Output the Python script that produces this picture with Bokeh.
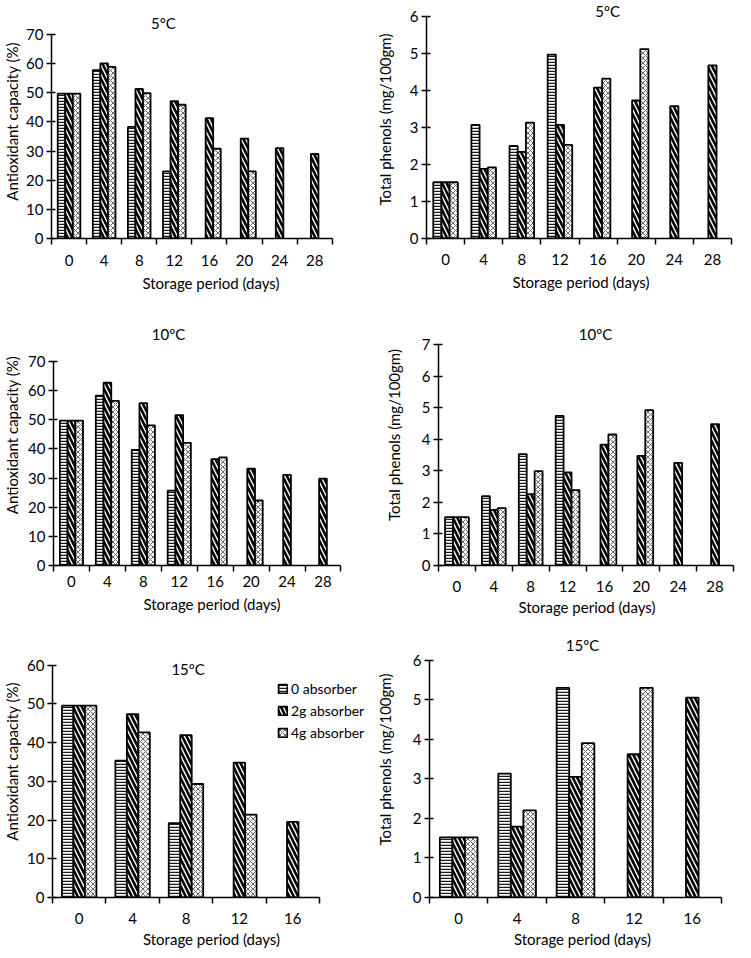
from bokeh.plotting import figure
from bokeh.layouts import column, row
from bokeh.models import Range1d, FixedTicker, SingleIntervalTicker, Label, Legend, LegendItem
from bokeh.embed import file_html
from bokeh.resources import INLINE

# ---------------- data ----------------
days_long = ["0", "4", "8", "12", "16", "20", "24", "28"]
days_short = ["0", "4", "8", "12", "16"]
series_names = ["0 absorber", "2g absorber", "4g absorber"]

ac5_0 = [49.7, 57.8, 38.3, 23.0, None, None, None, None]
ac5_2 = [49.7, 60.1, 51.3, 47.1, 41.3, 34.3, 31.0, 29.0]
ac5_4 = [49.7, 58.9, 49.9, 45.9, 30.8, 23.0, None, None]

tp5_0 = [1.52, 3.07, 2.50, 4.97, None, None, None, None]
tp5_2 = [1.52, 1.88, 2.34, 3.07, 4.08, 3.73, 3.58, 4.68]
tp5_4 = [1.52, 1.92, 3.13, 2.53, 4.32, 5.12, None, None]

ac10_0 = [49.7, 58.3, 39.7, 25.7, None, None, None, None]
ac10_2 = [49.7, 62.7, 55.7, 51.6, 36.5, 33.2, 31.1, 29.8]
ac10_4 = [49.7, 56.5, 48.1, 42.1, 37.1, 22.3, None, None]

tp10_0 = [1.53, 2.20, 3.53, 4.74, None, None, None, None]
tp10_2 = [1.53, 1.76, 2.26, 2.95, 3.83, 3.47, 3.25, 4.48]
tp10_4 = [1.53, 1.82, 2.99, 2.39, 4.15, 4.92, None, None]

ac15_0 = [49.5, 35.3, 19.2, None, None]
ac15_2 = [49.5, 47.3, 41.9, 34.8, 19.5]
ac15_4 = [49.5, 42.6, 29.3, 21.4, None]

tp15_0 = [1.52, 3.13, 5.30, None, None]
tp15_2 = [1.52, 1.79, 3.05, 3.62, 5.05]
tp15_4 = [1.52, 2.20, 3.90, 5.30, None]

FONT = "Lato"
FS = "15px"
BAR_W = 0.215

styles = [
    dict(hatch_pattern="-", hatch_color="#1a1a1a", hatch_scale=3, hatch_weight=1.5),
    dict(hatch_pattern="\\", hatch_color="#000000", hatch_scale=9, hatch_weight=2.6),
    dict(hatch_pattern="x", hatch_color="#6a6a6a", hatch_scale=5, hatch_weight=1.0),
]


def panel(days, vals, ymax, ystep, ylabel, title, title_x, title_px,
          fig_w, fig_h, left, bottom, top_px, n_px,
          ylab_standoff, tick_standoff, xtitle_standoff, legend=None):
    n = len(days)
    frame_w = fig_w - left
    frame_h = fig_h - bottom
    x_end = n * frame_w / n_px
    y_end = ymax * frame_h / (frame_h - top_px)
    p = figure(width=fig_w, height=fig_h, output_backend="svg",
               toolbar_location=None, x_range=Range1d(0, x_end), y_range=Range1d(0, y_end),
               min_border_left=left, min_border_right=0,
               min_border_top=0, min_border_bottom=bottom)
    p.outline_line_color = None
    p.xgrid.visible = False
    p.ygrid.visible = False
    p.background_fill_color = "white"
    p.border_fill_color = "white"

    renderers = []
    offsets = [-BAR_W, 0.0, BAR_W]
    for k, series in enumerate(vals):
        xs = [i + 0.5 + offsets[k] for i, v in enumerate(series) if v is not None]
        tops = [v for v in series if v is not None]
        r = p.vbar(x=xs, top=tops, bottom=0, width=BAR_W, fill_color="white",
                   line_color="black", line_width=1.8, **styles[k])
        renderers.append(r)

    xa = p.xaxis[0]
    xa.bounds = (0, n)
    xa.ticker = FixedTicker(ticks=[i + 0.5 for i in range(n)],
                            minor_ticks=[float(i) for i in range(n + 1)])
    xa.major_label_overrides = {i + 0.5: d for i, d in enumerate(days)}
    xa.major_tick_in = 0
    xa.major_tick_out = 0
    xa.major_tick_line_color = None
    xa.minor_tick_in = 0
    xa.minor_tick_out = 6
    xa.minor_tick_line_color = "black"
    xa.minor_tick_line_width = 1.5
    xa.axis_line_width = 1.5
    xa.axis_line_color = "black"
    xa.major_label_standoff = tick_standoff
    xa.axis_label = "Storage period (days)"
    xa.axis_label_standoff = xtitle_standoff

    ya = p.yaxis[0]
    ya.bounds = (0, ymax)
    ya.ticker = SingleIntervalTicker(interval=ystep, num_minor_ticks=0)
    ya.major_tick_in = 4
    ya.major_tick_out = 5
    ya.major_tick_line_width = 1.5
    ya.minor_tick_line_color = None
    ya.axis_line_width = 1.5
    ya.axis_line_color = "black"
    ya.major_label_standoff = 3
    ya.axis_label = ylabel
    ya.axis_label_standoff = ylab_standoff

    for ax in (xa, ya):
        ax.major_label_text_font = FONT
        ax.major_label_text_font_size = FS
        ax.major_label_text_color = "black"
        ax.axis_label_text_font = FONT
        ax.axis_label_text_font_size = FS
        ax.axis_label_text_font_style = "normal"
        ax.axis_label_text_color = "black"

    title_y = y_end * (frame_h - title_px) / frame_h
    p.add_layout(Label(x=title_x, y=title_y, text=title,
                       text_align="center", text_baseline="middle",
                       text_font=FONT, text_font_size=FS, text_color="black"))

    if legend is not None:
        items = [LegendItem(label=series_names[k], renderers=[renderers[k]]) for k in range(3)]
        lg = Legend(items=items, location=legend, orientation="vertical",
                    glyph_width=11, glyph_height=11, label_standoff=3, spacing=5,
                    padding=0, margin=0, border_line_color=None,
                    background_fill_alpha=0, label_text_font=FONT,
                    label_text_font_size="14px", label_text_color="black",
                    label_height=13)
        p.add_layout(lg)
    return p


# row 1 (height 304)
p1 = panel(days_long, [ac5_0, ac5_2, ac5_4], 70, 10, "Antioxidant capacity  (%)", "5ºC",
           3.19, 22, fig_w=370, fig_h=304, left=45, bottom=66, top_px=34, n_px=286,
           ylab_standoff=2, tick_standoff=10, xtitle_standoff=5)
p2 = panel(days_long, [tp5_0, tp5_2, tp5_4], 6, 1, "Total phenols (mg/100gm)", "5ºC",
           4.75, 10, fig_w=365, fig_h=304, left=56, bottom=66, top_px=16, n_px=305,
           ylab_standoff=13, tick_standoff=9, xtitle_standoff=5)
# row 2 (height 317)
p3 = panel(days_long, [ac10_0, ac10_2, ac10_4], 70, 10, "Antioxidant capacity (%)", "10ºC",
           3.2, 29, fig_w=370, fig_h=317, left=48, bottom=56, top_px=57, n_px=292,
           ylab_standoff=4, tick_standoff=4, xtitle_standoff=5)
p4 = panel(days_long, [tp10_0, tp10_2, tp10_4], 7, 1, "Total phenols (mg/100gm)", "10ºC",
           4.26, 29, fig_w=365, fig_h=317, left=68, bottom=56, top_px=40, n_px=295,
           ylab_standoff=16, tick_standoff=9, xtitle_standoff=3)
# row 3 (height 329)
p5 = panel(days_short, [ac15_0, ac15_2, ac15_4], 60, 10, "Antioxidant capacity  (%)", "15ºC",
           2.54, 48, fig_w=370, fig_h=329, left=46, bottom=50, top_px=44, n_px=272,
           ylab_standoff=3, tick_standoff=9, xtitle_standoff=3, legend=(225, 156))
p6 = panel(days_short, [tp15_0, tp15_2, tp15_4], 6, 1, "Total phenols (mg/100gm)", "15ºC",
           2.62, 24, fig_w=365, fig_h=329, left=59, bottom=50, top_px=39, n_px=292,
           ylab_standoff=16, tick_standoff=9, xtitle_standoff=3)

layout = column(row(p1, p2), row(p3, p4), row(p5, p6))

open("out.html", "w").write(file_html(layout, INLINE))
